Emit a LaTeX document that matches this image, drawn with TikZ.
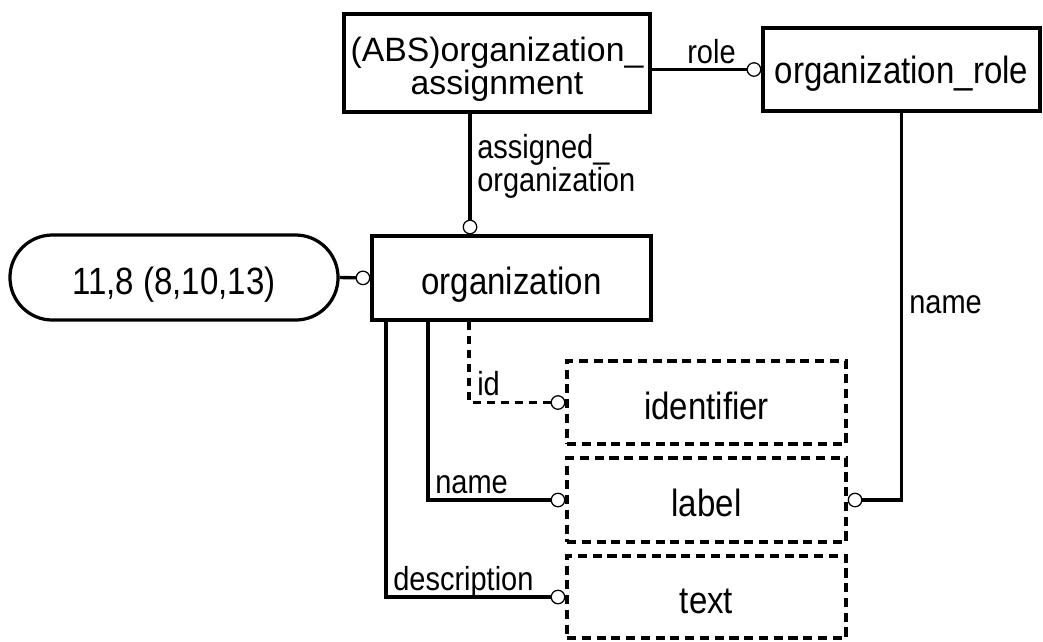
\documentclass[tikz,border=0pt]{standalone}
\usepackage{fontspec}
\newfontfamily\boxfont{Liberation Sans}[FakeStretch=0.87]
\newfontfamily\absfont{Liberation Sans}
\usetikzlibrary{arrows.meta,shapes.misc}
\tikzset{
	entbox/.style={draw, line width=2.3pt, minimum width=6.975cm, minimum height=2.1cm, inner sep=0pt,
		font=\boxfont\fontsize{27}{32}\selectfont, text height=0.875cm, text depth=0.05cm},
	attrbox/.style={entbox, dash pattern=on 6.5pt off 4pt},
	reln/.style={line width=2.4pt, -{Circle[length=10.5pt, line width=0.9pt, fill=white]}},
	lbl/.style={inner sep=0pt, font=\boxfont\fontsize{23.7}{22.8}\selectfont, align=left},
}

\begin{document}
\begin{tikzpicture}[x=0.025cm, y=-0.025cm]
			%%%%% START %%%%%
			\useasboundingbox (0,0) rectangle (1043,641);
			
			\coordinate (asgx) at (470,0);
			\coordinate (idx) at (469,0);
			\coordinate (namex) at (428,0);
			\coordinate (descx) at (386,0);
			
			\node[entbox, minimum width=7.65cm, minimum height=2.45cm, align=center,
				font=\absfont\fontsize{24}{19.2}\selectfont, text height=1.75cm, text depth=0.2cm]
				(abs) at (497,63) {(ABS)organization\_\\assignment};
			\node[entbox, minimum width=6.925cm, minimum height=2.075cm, text height=0.8cm, text depth=0.125cm]
				(orgrole) at (901.5,69.5) {organization\_role};
			
			\node[entbox] (org) at (511.5,278) {organization};
			\node[entbox, rounded rectangle, minimum width=8.2cm, minimum height=2.125cm] (cap) at (174,277.5) {11,8 (8,10,13)};
			
			\node[attrbox, minimum height=2.075cm] (ident) at (706.5,402.5) {identifier};
			\node[attrbox] (lab) at (706.5,500) {label};
			\node[attrbox, minimum height=2.05cm] (txt) at (706.5,597) {text};
			
			\draw[reln] (abs.east |- orgrole.west) -- (orgrole.west);
			\draw[reln] (abs.south -| asgx) -- (org.north -| asgx);
			\draw[reln] (cap.east) -- (org.west);
			\draw[reln, dash pattern=on 6pt off 4pt] (org.south -| idx) |- (ident.west);
			\draw[reln] (org.south -| namex) |- (lab.west);
			\draw[reln] (org.south -| descx) |- (txt.west);
			\draw[reln] (orgrole.south) |- (lab.east);
			
			\node[lbl, anchor=base west] (rolelbl) at (687,63) {role};
			\node[lbl, anchor=base west] (asglbl) at (477,191) {assigned\_\\organization};
			\node[lbl, anchor=base west] (idlbl) at (477,395) {id};
			\node[lbl, anchor=base west] (namelbl) at (435,493) {name};
			\node[lbl, anchor=base west] (desclbl) at (393,590) {description};
			\node[lbl, anchor=base west] (rnamelbl) at (909,313) {name};
			%%%%% END %%%%%
\end{tikzpicture}
\end{document}
